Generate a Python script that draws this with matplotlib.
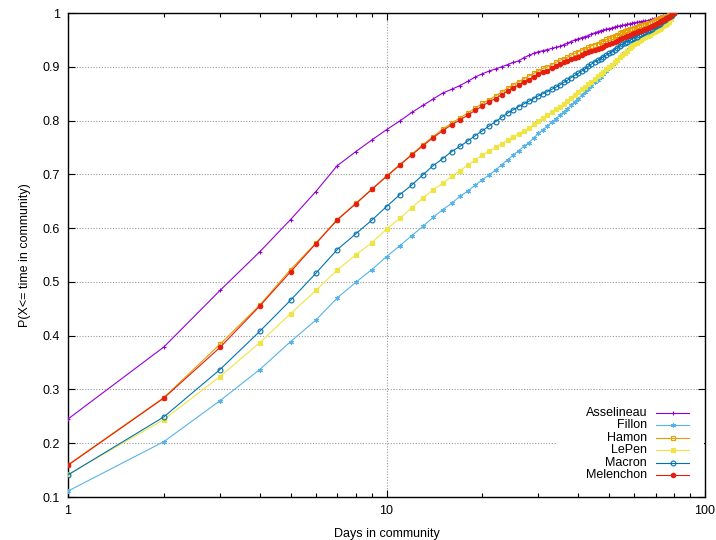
import numpy as np
import matplotlib.pyplot as plt
from matplotlib.lines import Line2D
from matplotlib.patches import Rectangle
from matplotlib.ticker import FixedLocator, LogLocator, NullFormatter

plt.rcParams['font.family'] = ['Liberation Sans', 'DejaVu Sans']

days = list(range(1, 81))

asselineau = [0.245, 0.379, 0.484, 0.556, 0.616, 0.668, 0.716, 0.742, 0.764, 0.783,
              0.799, 0.815, 0.828, 0.840, 0.851, 0.858, 0.865, 0.873, 0.881, 0.887,
              0.892, 0.896, 0.900, 0.904, 0.908, 0.911, 0.917, 0.921, 0.925, 0.928,
              0.930, 0.932, 0.934, 0.936, 0.938, 0.941, 0.944, 0.947, 0.950, 0.952,
              0.954, 0.956, 0.958, 0.961, 0.963, 0.965, 0.967, 0.968, 0.970, 0.971,
              0.972, 0.974, 0.975, 0.976, 0.977, 0.978, 0.979, 0.980, 0.981, 0.982,
              0.983, 0.983, 0.984, 0.985, 0.985, 0.986, 0.987, 0.988, 0.989, 0.990,
              0.991, 0.992, 0.993, 0.994, 0.995, 0.996, 0.997, 0.998, 0.999, 1.000]

fillon = [0.111, 0.203, 0.279, 0.337, 0.389, 0.429, 0.470, 0.499, 0.523, 0.547,
          0.567, 0.586, 0.603, 0.620, 0.634, 0.646, 0.659, 0.669, 0.680, 0.690,
          0.699, 0.708, 0.718, 0.727, 0.736, 0.744, 0.752, 0.759, 0.768, 0.776,
          0.783, 0.790, 0.797, 0.803, 0.810, 0.816, 0.822, 0.829, 0.835, 0.841,
          0.847, 0.853, 0.859, 0.865, 0.871, 0.876, 0.881, 0.887, 0.892, 0.897,
          0.902, 0.907, 0.913, 0.918, 0.923, 0.927, 0.932, 0.936, 0.940, 0.944,
          0.947, 0.950, 0.953, 0.956, 0.959, 0.962, 0.965, 0.968, 0.970, 0.973,
          0.975, 0.978, 0.980, 0.983, 0.985, 0.988, 0.991, 0.994, 0.997, 1.000]

hamon = [0.160, 0.285, 0.384, 0.457, 0.523, 0.572, 0.616, 0.646, 0.673, 0.697,
         0.718, 0.737, 0.755, 0.770, 0.784, 0.795, 0.805, 0.814, 0.823, 0.832,
         0.839, 0.846, 0.853, 0.860, 0.867, 0.872, 0.878, 0.883, 0.888, 0.893,
         0.897, 0.900, 0.904, 0.908, 0.912, 0.915, 0.918, 0.922, 0.925, 0.928,
         0.931, 0.933, 0.936, 0.939, 0.941, 0.943, 0.946, 0.948, 0.951, 0.953,
         0.955, 0.957, 0.960, 0.962, 0.964, 0.966, 0.968, 0.970, 0.971, 0.973,
         0.974, 0.976, 0.977, 0.978, 0.980, 0.981, 0.982, 0.984, 0.985, 0.987,
         0.988, 0.989, 0.990, 0.992, 0.993, 0.994, 0.996, 0.997, 0.999, 1.000]

lepen = [0.142, 0.244, 0.324, 0.387, 0.441, 0.484, 0.522, 0.550, 0.573, 0.598,
         0.618, 0.638, 0.656, 0.671, 0.683, 0.696, 0.707, 0.717, 0.727, 0.736,
         0.743, 0.750, 0.757, 0.764, 0.770, 0.775, 0.781, 0.786, 0.793, 0.800,
         0.805, 0.810, 0.815, 0.821, 0.826, 0.831, 0.837, 0.842, 0.848, 0.853,
         0.858, 0.863, 0.868, 0.872, 0.877, 0.882, 0.886, 0.891, 0.895, 0.900,
         0.904, 0.909, 0.913, 0.918, 0.922, 0.926, 0.930, 0.934, 0.938, 0.942,
         0.945, 0.948, 0.950, 0.953, 0.955, 0.957, 0.960, 0.962, 0.964, 0.966,
         0.968, 0.970, 0.972, 0.975, 0.977, 0.980, 0.984, 0.989, 0.995, 1.000]

macron = [0.141, 0.249, 0.337, 0.408, 0.466, 0.516, 0.560, 0.589, 0.615, 0.640,
          0.662, 0.680, 0.699, 0.716, 0.729, 0.742, 0.752, 0.762, 0.772, 0.781,
          0.790, 0.798, 0.806, 0.814, 0.820, 0.826, 0.831, 0.836, 0.841, 0.846,
          0.850, 0.854, 0.858, 0.862, 0.866, 0.871, 0.875, 0.880, 0.884, 0.888,
          0.892, 0.896, 0.901, 0.905, 0.909, 0.912, 0.915, 0.919, 0.922, 0.925,
          0.928, 0.932, 0.935, 0.939, 0.942, 0.944, 0.947, 0.949, 0.952, 0.954,
          0.956, 0.959, 0.961, 0.963, 0.965, 0.967, 0.969, 0.971, 0.974, 0.976,
          0.978, 0.980, 0.983, 0.985, 0.987, 0.990, 0.992, 0.995, 0.997, 1.000]

melenchon = [0.159, 0.284, 0.378, 0.455, 0.519, 0.571, 0.615, 0.645, 0.672, 0.696,
             0.717, 0.736, 0.753, 0.768, 0.781, 0.792, 0.801, 0.810, 0.819, 0.827,
             0.835, 0.841, 0.848, 0.855, 0.861, 0.866, 0.871, 0.876, 0.881, 0.886,
             0.890, 0.893, 0.897, 0.901, 0.905, 0.908, 0.911, 0.914, 0.917, 0.919,
             0.922, 0.925, 0.927, 0.929, 0.931, 0.933, 0.935, 0.937, 0.940, 0.942,
             0.944, 0.946, 0.948, 0.951, 0.953, 0.955, 0.957, 0.959, 0.961, 0.962,
             0.964, 0.966, 0.967, 0.969, 0.970, 0.972, 0.974, 0.975, 0.977, 0.979,
             0.981, 0.983, 0.985, 0.987, 0.989, 0.991, 0.993, 0.996, 0.998, 1.000]

names = ['Asselineau', 'Fillon', 'Hamon', 'LePen', 'Macron', 'Melenchon']
series = [asselineau, fillon, hamon, lepen, macron, melenchon]
colors = ['#9400d3', '#56b4e9', '#e69f00', '#f0e442', '#0072b2', '#e51e10']
# gnuplot point types: +, *, open square, filled square, open circle, filled circle
markers = ['+', (6, 2, 0), 's', 's', 'o', 'o']
filled = [True, True, False, True, False, True]
msizes = [3.5, 3.5, 3.5, 3.2, 3.5, 3.2]

fig = plt.figure(figsize=(7.16, 5.4), dpi=100)
ax = fig.add_axes([68 / 716, 1 - 497 / 540, 637 / 716, 484 / 540])

for name, ys, c, m, f, ms in zip(names, series, colors, markers, filled, msizes):
    ax.plot(days, ys, color=c, lw=0.8, marker=m, ms=ms, mew=0.8,
            mfc=c if f else 'none', mec=c, label=name, zorder=3)

ax.set_xscale('log')
ax.set_xlim(1, 100)
ax.set_ylim(0.1, 1.0)
ax.xaxis.set_major_locator(FixedLocator([1, 10, 100]))
ax.set_xticklabels(['1', '10', '100'])
ax.xaxis.set_minor_locator(LogLocator(base=10, subs=np.arange(2, 10)))
ax.xaxis.set_minor_formatter(NullFormatter())
ax.set_yticks(np.arange(0.1, 1.01, 0.1))
ax.set_yticklabels(['0.1', '0.2', '0.3', '0.4', '0.5', '0.6', '0.7', '0.8', '0.9', '1'])

ax.tick_params(which='both', direction='in', top=True, right=True, labelsize=9)
ax.tick_params(which='major', length=5, width=0.8, pad=6)
ax.tick_params(which='minor', length=3, width=0.8)
ax.grid(True, which='major', color='#999999', ls=(0, (1, 1.5)), lw=0.8)
for s in ax.spines.values():
    s.set_linewidth(1.0)

ax.set_xlabel('Days in community', fontsize=9, labelpad=8)
ax.set_ylabel('P(X<= time in community)', fontsize=9, labelpad=8)

# legend drawn by hand, gnuplot style (text, then sample)
def ax_x(px):
    return (px - 68) / 637


def ax_y(py):
    return (497 - py) / 484


ax.add_patch(Rectangle((ax_x(556), ax_y(482)), ax_x(704) - ax_x(556), ax_y(405) - ax_y(482),
                       transform=ax.transAxes, facecolor='white', edgecolor='none', zorder=2))
for i, (name, c, m, f, ms) in enumerate(zip(names, colors, markers, filled, msizes)):
    yy = ax_y(413 + i * 12.4)
    ax.text(ax_x(647), yy, name, transform=ax.transAxes, ha='right', va='center',
            fontsize=9, zorder=4)
    ax.add_line(Line2D([ax_x(656), ax_x(689)], [yy, yy], transform=ax.transAxes,
                       color=c, lw=0.8, zorder=4))
    ax.add_line(Line2D([ax_x(672.5)], [yy], transform=ax.transAxes, color=c,
                       marker=m, ms=ms, mew=0.8, mfc=c if f else 'none', mec=c, zorder=4))

fig.savefig('out.png', dpi=100)
